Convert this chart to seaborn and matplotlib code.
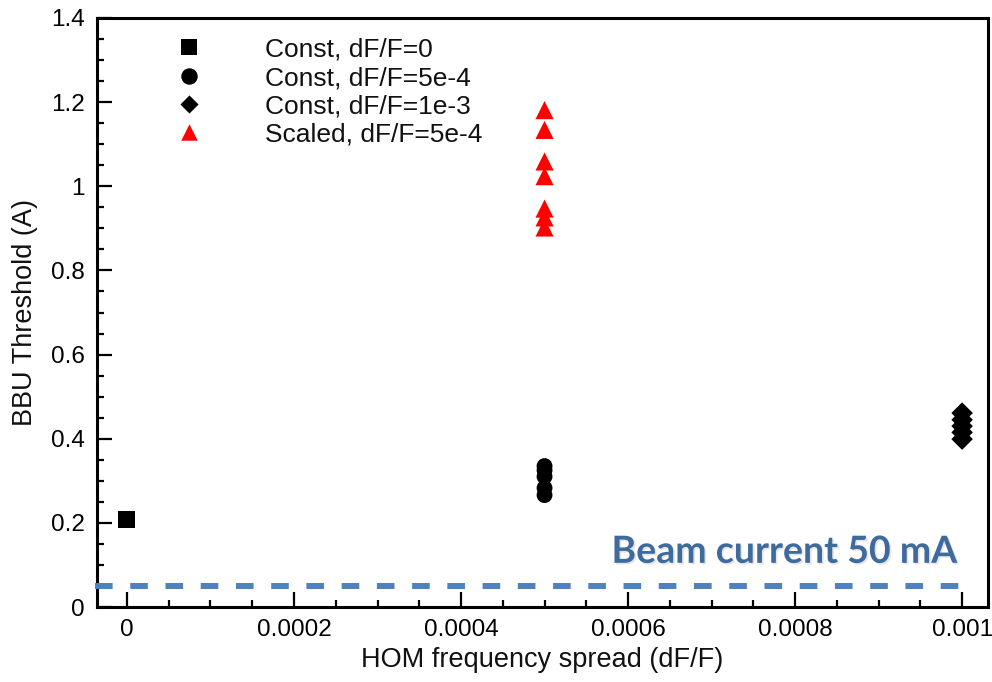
import matplotlib
matplotlib.use("Agg")
import matplotlib.pyplot as plt
import matplotlib.ticker as mticker
import matplotlib.patheffects as pe
import seaborn as sns
import pandas as pd

# ---- data ----
labels = ["Const, dF/F=0", "Const, dF/F=5e-4", "Const, dF/F=1e-3", "Scaled, dF/F=5e-4"]
x_const0 = [0.0]
y_const0 = [0.207]
x_const5 = [0.0005, 0.0005, 0.0005, 0.0005, 0.0005]
y_const5 = [0.335, 0.325, 0.31, 0.283, 0.266]
x_const10 = [0.001, 0.001, 0.001, 0.001, 0.001]
y_const10 = [0.461, 0.445, 0.43, 0.415, 0.399]
x_scaled = [0.0005] * 7
y_scaled = [1.181, 1.134, 1.059, 1.024, 0.947, 0.926, 0.902]
beam_current = 0.05
beam_text = "Beam current 50 mA"
xlabel = "HOM frequency spread (dF/F)"
ylabel = "BBU Threshold (A)"

markers = {labels[0]: "s", labels[1]: "o", labels[2]: "D", labels[3]: "^"}
colors = {labels[0]: "black", labels[1]: "black", labels[2]: "black", labels[3]: "red"}
sizes = {labels[0]: 150, labels[1]: 130, labels[2]: 120, labels[3]: 170}
leg_sizes = {labels[0]: 130, labels[1]: 140, labels[2]: 85, labels[3]: 140}

df = pd.concat([
    pd.DataFrame({"x": x_const0, "y": y_const0, "series": labels[0]}),
    pd.DataFrame({"x": x_const5, "y": y_const5, "series": labels[1]}),
    pd.DataFrame({"x": x_const10, "y": y_const10, "series": labels[2]}),
    pd.DataFrame({"x": x_scaled, "y": y_scaled, "series": labels[3]}),
])

sns.set_style("white")
plt.rcParams["font.family"] = ["Liberation Sans", "DejaVu Sans"]

fig = plt.figure(figsize=(9.92, 6.82), dpi=100)
ax = fig.add_axes([97 / 992, 75 / 682, 891 / 992, 589 / 682])

for lab in labels:
    sub = df[df.series == lab]
    sns.scatterplot(data=sub, x="x", y="y", marker=markers[lab], color=colors[lab],
                    s=sizes[lab], edgecolor="none", linewidth=0, ax=ax, legend=False, zorder=3)

ax.set_xlim(-0.0000359, 0.001031)
ax.set_ylim(0, 1.4)
ax.xaxis.set_major_locator(mticker.MultipleLocator(0.0002))
ax.xaxis.set_minor_locator(mticker.MultipleLocator(0.00005))
ax.yaxis.set_major_locator(mticker.MultipleLocator(0.2))
ax.yaxis.set_minor_locator(mticker.MultipleLocator(0.05))
ax.xaxis.set_major_formatter(mticker.FuncFormatter(
    lambda v, p: f"{v:.4f}".rstrip("0").rstrip(".") if abs(v) > 1e-12 else "0"))
ax.yaxis.set_major_formatter(mticker.FuncFormatter(
    lambda v, p: f"{v:.1f}".rstrip("0").rstrip(".") if abs(v) > 1e-12 else "0"))

ax.tick_params(which="both", direction="in", top=False, right=False, bottom=True, left=True,
               colors="black", labelsize=17.5, width=1.6)
ax.tick_params(which="major", length=11)
ax.tick_params(which="minor", length=5)
ax.tick_params(axis="x", which="major", pad=9)
ax.tick_params(axis="y", which="major", pad=9)
for sp in ax.spines.values():
    sp.set_visible(True)
    sp.set_color("black")
    sp.set_linewidth(2.2)

ax.set_xlabel(xlabel, fontsize=19.5, color="#111111")
ax.set_ylabel(ylabel, fontsize=19.5, color="#111111")
ax.xaxis.set_label_coords(0.5, -0.068)
ax.yaxis.set_label_coords(-0.066, 0.5)

# beam current line
line, = ax.plot([-0.0000385, 0.001008], [beam_current, beam_current], color="#4F81BD",
                linewidth=4.3, clip_on=False, zorder=4, solid_capstyle="butt")
line.set_dashes([2.95, 2.95])
line.set_dash_capstyle("butt")
ax.text(0.000994, 0.105, beam_text, color="#3E6A9E", fontsize=27,
        fontweight="bold", family=["Lato", "DejaVu Sans"], ha="right", va="baseline",
        path_effects=[pe.withSimplePatchShadow(offset=(1.2, -1.2), shadow_rgbFace="#9a9a9a", alpha=0.25)])

# legend (drawn in axes coordinates)
leg_rows_y = [47, 76, 104, 132]
for lab, ry in zip(labels, leg_rows_y):
    fy = 1 - ry / 682
    fig_ax_y = (fy - 75 / 682) / (589 / 682)
    ax.scatter([(189 - 97) / 891], [fig_ax_y], transform=ax.transAxes, marker=markers[lab],
               color=colors[lab], s=leg_sizes[lab], linewidths=0, clip_on=False, zorder=5)
    ax.text((265 - 97) / 891, fig_ax_y, lab, transform=ax.transAxes, fontsize=19,
            ha="left", va="center_baseline", color="#111111")

fig.savefig("out.png", dpi=100)
